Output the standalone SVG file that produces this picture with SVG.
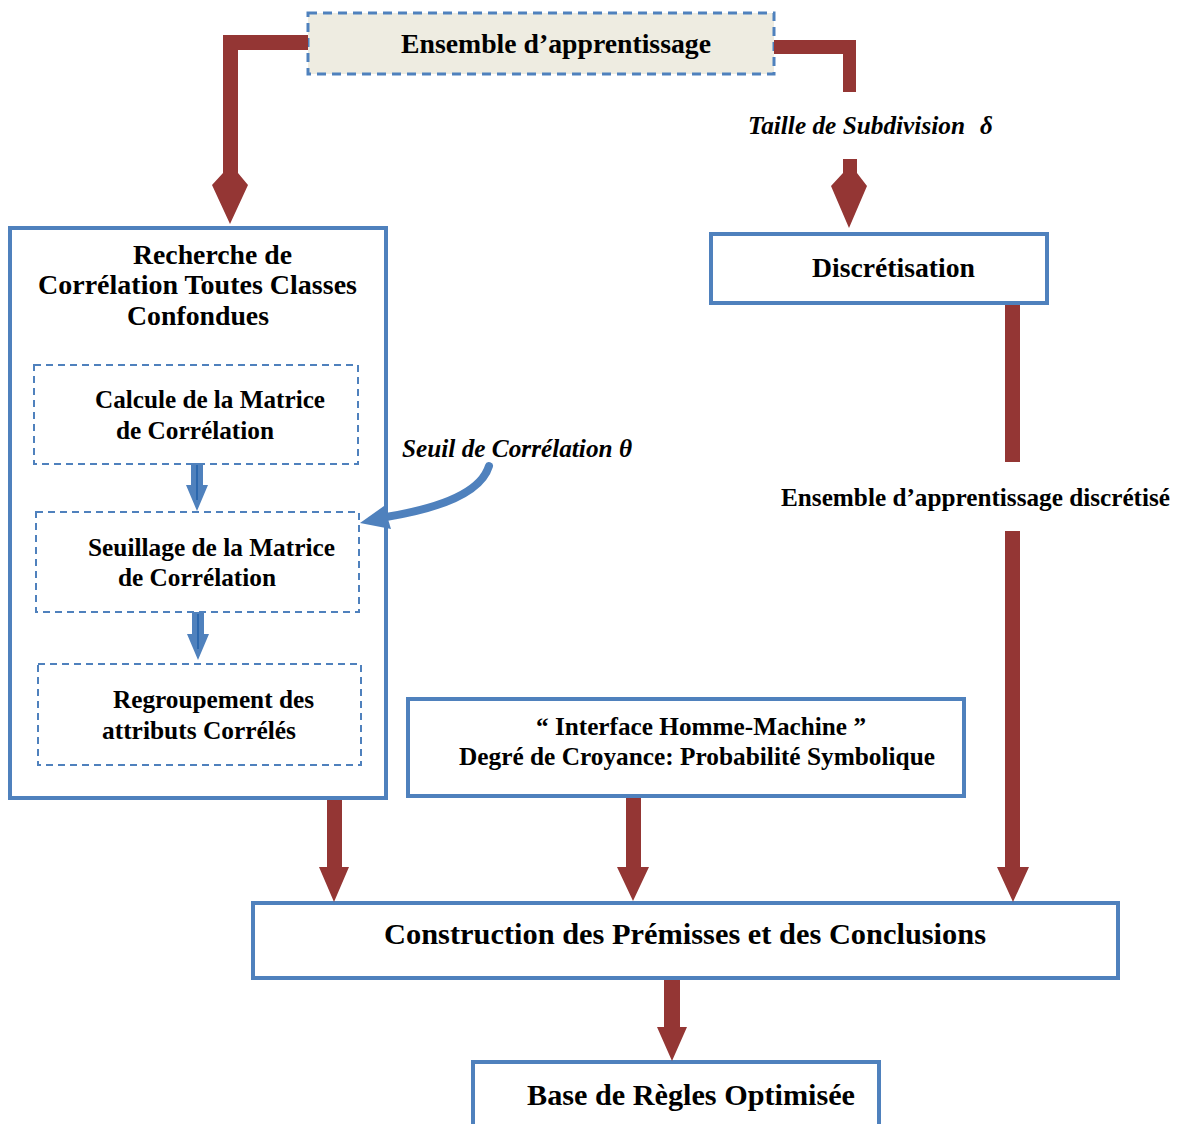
<svg xmlns="http://www.w3.org/2000/svg" width="1184" height="1124" viewBox="0 0 1184 1124">
  <defs>
    <style>
      .box { fill: #ffffff; stroke: #4F81BD; stroke-width: 4; }
      .dash { fill: #ffffff; stroke: #4F81BD; stroke-width: 2; stroke-dasharray: 7 5; }
      .topbox { fill: #EEECE1; stroke: #4F81BD; stroke-width: 3; stroke-dasharray: 9 6; }
      .red { fill: #943634; }
      .blue { fill: #4F81BD; }
      .t { font-family: "Liberation Serif", "Times New Roman", serif; font-weight: bold; fill: #000000; }
      .ti { font-family: "Liberation Serif", "Times New Roman", serif; font-weight: bold; font-style: italic; fill: #000000; }
    </style>
  </defs>
  <rect width="1184" height="1124" fill="#ffffff"/>

  <!-- nodes -->
  <g id="node-ensemble">
    <rect class="topbox" x="308" y="13" width="466" height="61"/>
    <text class="t" x="401" y="53" font-size="28" textLength="310" lengthAdjust="spacingAndGlyphs">Ensemble d’apprentissage</text>
  </g>

  <g id="label-taille">
    <text class="ti" x="748" y="134" font-size="25" textLength="217" lengthAdjust="spacingAndGlyphs">Taille de Subdivision</text>
    <text class="ti" x="980" y="134" font-size="25">δ</text>
  </g>

  <g id="node-correlation">
    <rect class="box" x="10" y="228" width="376" height="570"/>
    <text class="t" x="133" y="264" font-size="27" textLength="159" lengthAdjust="spacingAndGlyphs">Recherche de</text>
    <text class="t" x="38" y="294" font-size="27" textLength="319" lengthAdjust="spacingAndGlyphs">Corrélation Toutes Classes</text>
    <text class="t" x="127" y="325" font-size="27" textLength="142" lengthAdjust="spacingAndGlyphs">Confondues</text>
  </g>

  <g id="node-calcule">
    <rect class="dash" x="34" y="365" width="324" height="99"/>
    <text class="t" x="95" y="408" font-size="25" textLength="230" lengthAdjust="spacingAndGlyphs">Calcule de la Matrice</text>
    <text class="t" x="116" y="439" font-size="25" textLength="158" lengthAdjust="spacingAndGlyphs">de Corrélation</text>
  </g>

  <g id="node-seuillage">
    <rect class="dash" x="36" y="512" width="323" height="100"/>
    <text class="t" x="88" y="556" font-size="25" textLength="247" lengthAdjust="spacingAndGlyphs">Seuillage de la Matrice</text>
    <text class="t" x="118" y="586" font-size="25" textLength="158" lengthAdjust="spacingAndGlyphs">de Corrélation</text>
  </g>

  <g id="node-regroupement">
    <rect class="dash" x="38" y="664" width="323" height="101"/>
    <text class="t" x="113" y="708" font-size="25" textLength="201" lengthAdjust="spacingAndGlyphs">Regroupement des</text>
    <text class="t" x="102" y="739" font-size="25" textLength="194" lengthAdjust="spacingAndGlyphs">attributs Corrélés</text>
  </g>

  <g id="label-seuil">
    <text class="ti" x="402" y="457" font-size="25" textLength="230" lengthAdjust="spacingAndGlyphs">Seuil de Corrélation θ</text>
  </g>

  <g id="node-discretisation">
    <rect class="box" x="711" y="234" width="336" height="69"/>
    <text class="t" x="812" y="277" font-size="27" textLength="163" lengthAdjust="spacingAndGlyphs">Discrétisation</text>
  </g>

  <g id="label-discretise">
    <text class="t" x="781" y="506" font-size="25" textLength="389" lengthAdjust="spacingAndGlyphs">Ensemble d’apprentissage discrétisé</text>
  </g>

  <g id="node-interface">
    <rect class="box" x="408" y="699" width="556" height="97"/>
    <text class="t" x="536" y="735" font-size="25" textLength="330" lengthAdjust="spacingAndGlyphs">“ Interface Homme-Machine ”</text>
    <text class="t" x="459" y="765" font-size="25" textLength="476" lengthAdjust="spacingAndGlyphs">Degré de Croyance: Probabilité Symbolique</text>
  </g>

  <g id="node-construction">
    <rect class="box" x="253" y="903" width="865" height="75"/>
    <text class="t" x="384" y="944" font-size="30" textLength="602" lengthAdjust="spacingAndGlyphs">Construction des Prémisses et des Conclusions</text>
  </g>

  <g id="node-base">
    <rect class="box" x="473" y="1062" width="406" height="80"/>
    <text class="t" x="527" y="1105" font-size="30" textLength="328" lengthAdjust="spacingAndGlyphs">Base de Règles Optimisée</text>
  </g>

  <!-- connectors -->
  <g id="connectors">
    <!-- training set to correlation search -->
    <polygon class="red" points="308,35 308,50 238,50 238,173 248,185 230,224 212,185 223,173 223,35"/>
    <!-- training set to discretisation (upper part) -->
    <polygon class="red" points="774,40 856,40 856,92 843,92 843,54 774,54"/>
    <!-- lower part after subdivision label -->
    <polygon class="red" points="843,159 857,159 857,173 867,186 849,228 831,186 843,173"/>
    <!-- discretisation down -->
    <rect class="red" x="1005" y="305" width="15" height="157"/>
    <polygon class="red" points="1005,531 1020,531 1020,867 1029,867 1013,902 997,867 1005,867"/>
    <!-- correlation box to construction -->
    <polygon class="red" points="327,800 342,800 342,867 349,867 334,902 319,867 327,867"/>
    <!-- interface to construction -->
    <polygon class="red" points="626,798 641,798 641,867 649,867 633,901 617,867 626,867"/>
    <!-- construction to base -->
    <polygon class="red" points="664,980 680,980 680,1027 687,1027 672,1061 657,1027 664,1027"/>

    <!-- inner blue arrows -->
    <polygon class="blue" points="191,463 203,463 203,485 208,485 197,511 186,485 191,485"/>
    <line x1="197" y1="465" x2="197" y2="500" stroke="#1F5FA8" stroke-width="1.5"/>
    <polygon class="blue" points="192,612 204,612 204,634 209,634 198,660 187,634 192,634"/>
    <line x1="198" y1="614" x2="198" y2="649" stroke="#1F5FA8" stroke-width="1.5"/>

    <!-- threshold curved arrow -->
    <path d="M489,466 Q478,502 386,517" fill="none" stroke="#4F81BD" stroke-width="8" stroke-linecap="round"/>
    <polygon class="blue" points="360,523 384,506 391,529"/>
  </g>
</svg>
